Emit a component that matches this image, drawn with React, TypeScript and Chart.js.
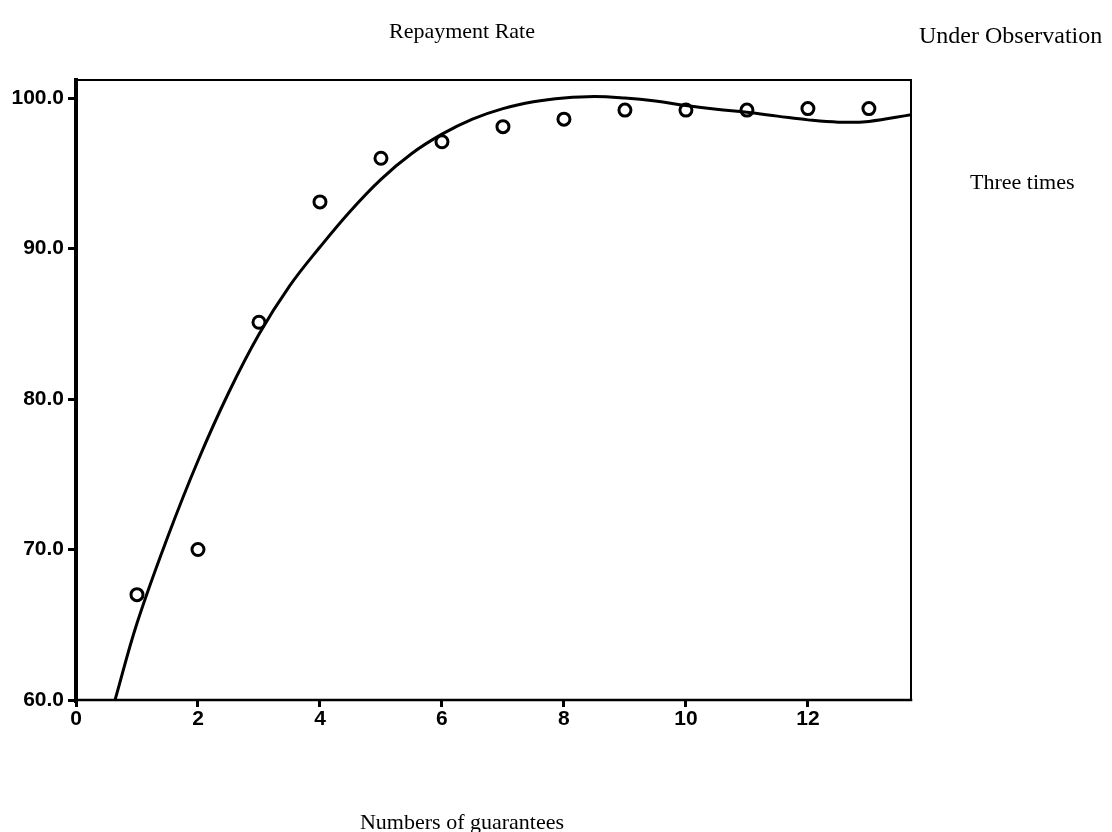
import React, { useEffect, useRef } from "react";
import { Chart, registerables } from "chart.js";

Chart.register(...registerables);

// Observed data (circles)
const obsX = [1, 2, 3, 4, 5, 6, 7, 8, 9, 10, 11, 12, 13];
const obsY = [67.0, 70.0, 85.1, 93.1, 96.0, 97.1, 98.1, 98.6, 99.2, 99.2, 99.2, 99.3, 99.3];

// Fitted curve
const fitX = [0.64, 1, 1.5, 2, 2.5, 3, 3.5, 4, 4.5, 5, 5.5, 6, 6.5, 7, 7.5, 8, 8.5, 9, 9.5, 10, 10.5, 11, 11.5, 12, 12.5, 13, 13.7];
const fitY = [60, 65.1, 70.8, 75.9, 80.4, 84.3, 87.5, 90.1, 92.5, 94.6, 96.3, 97.6, 98.6, 99.3, 99.75, 100.0, 100.1, 100.0, 99.8, 99.5, 99.25, 99.05, 98.8, 98.55, 98.4, 98.45, 98.9];

const yTicks = [60, 70, 80, 90, 100];
const xTicks = [0, 2, 4, 6, 8, 10, 12];

const titleText = "Repayment Rate";
const cornerText = "Under Observation";
const sideText = "Three times";
const xTitleText = "Numbers of guarantees";

const framePlugin = {
  id: "frame",
  afterDraw(chart: any) {
    const { ctx, chartArea } = chart;
    const { left, right, top, bottom } = chartArea;
    ctx.save();
    ctx.strokeStyle = "#000";
    ctx.lineCap = "square";
    ctx.lineWidth = 2;
    ctx.beginPath();
    ctx.moveTo(left, top);
    ctx.lineTo(right, top);
    ctx.lineTo(right, bottom);
    ctx.stroke();
    ctx.lineWidth = 2.5;
    ctx.beginPath();
    ctx.moveTo(left, bottom);
    ctx.lineTo(right, bottom);
    ctx.stroke();
    ctx.lineWidth = 4;
    ctx.beginPath();
    ctx.moveTo(left, top);
    ctx.lineTo(left, bottom + 1);
    ctx.stroke();
    ctx.restore();
  },
};

export default function App() {
  const canvasRef = useRef<HTMLCanvasElement | null>(null);

  useEffect(() => {
    const canvas = canvasRef.current;
    if (!canvas) return;
    const tickFont = { family: "'Liberation Sans', Arial, sans-serif", size: 21, weight: "bold" as const };
    const chart = new Chart(canvas, {
      type: "scatter",
      data: {
        datasets: [
          {
            type: "line",
            label: "fit",
            data: fitX.map((x, i) => ({ x, y: fitY[i] })),
            borderColor: "#000",
            borderWidth: 3,
            pointRadius: 0,
            tension: 0.4,
            fill: false,
          } as any,
          {
            type: "scatter",
            label: "observed",
            data: obsX.map((x, i) => ({ x, y: obsY[i] })),
            borderColor: "#000",
            backgroundColor: "#fff",
            borderWidth: 3,
            pointRadius: 6,
            pointStyle: "circle",
          },
        ],
      },
      options: {
        animation: false,
        responsive: false,
        events: [],
        layout: { padding: { top: 80, right: 201, left: 0, bottom: 0 } },
        plugins: {
          legend: { display: false },
          tooltip: { enabled: false },
          title: { display: false },
        },
        scales: {
          x: {
            type: "linear",
            min: 0,
            max: 13.69,
            afterBuildTicks: (scale: any) => {
              scale.ticks = xTicks.map((v) => ({ value: v }));
            },
            afterFit: (scale: any) => {
              scale.height = 132;
            },
            border: { display: false },
            grid: {
              display: true,
              drawOnChartArea: false,
              drawTicks: true,
              tickLength: 7,
              tickColor: "#000",
              tickWidth: 3,
              color: "#000",
            },
            ticks: {
              color: "#000",
              font: tickFont,
              padding: 0,
              maxRotation: 0,
              autoSkip: false,
              callback: (v: any) => String(v),
            },
          },
          y: {
            type: "linear",
            min: 60,
            max: 101.2,
            afterBuildTicks: (scale: any) => {
              scale.ticks = yTicks.map((v) => ({ value: v }));
            },
            afterFit: (scale: any) => {
              scale.width = 76;
            },
            border: { display: false },
            grid: {
              display: true,
              drawOnChartArea: false,
              drawTicks: true,
              tickLength: 8,
              tickColor: "#000",
              tickWidth: 3,
              color: "#000",
            },
            ticks: {
              color: "#000",
              font: tickFont,
              padding: 4,
              autoSkip: false,
              callback: (v: any) => Number(v).toFixed(1),
            },
          },
        },
      },
      plugins: [framePlugin],
    });
    return () => chart.destroy();
  }, []);

  const serif = "'Liberation Serif', 'Times New Roman', serif";
  const textStyle: React.CSSProperties = {
    position: "absolute",
    fontFamily: serif,
    fontSize: 22,
    color: "#000",
    whiteSpace: "nowrap",
    lineHeight: "24px",
  };

  return (
    <div style={{ position: "absolute", left: 0, top: 0, width: 1112, height: 832, background: "#fff", overflow: "hidden" }}>
      <canvas ref={canvasRef} width={1112} height={832} style={{ display: "block", position: "absolute", left: 0, top: 0 }} />
      <div style={{ ...textStyle, left: 462, top: 19, transform: "translateX(-50%)" }}>{titleText}</div>
      <div style={{ ...textStyle, left: 919, top: 22, fontSize: 24, lineHeight: "26px" }}>{cornerText}</div>
      <div style={{ ...textStyle, left: 970, top: 170 }}>{sideText}</div>
      <div style={{ ...textStyle, left: 462, top: 810, transform: "translateX(-50%)" }}>{xTitleText}</div>
    </div>
  );
}
